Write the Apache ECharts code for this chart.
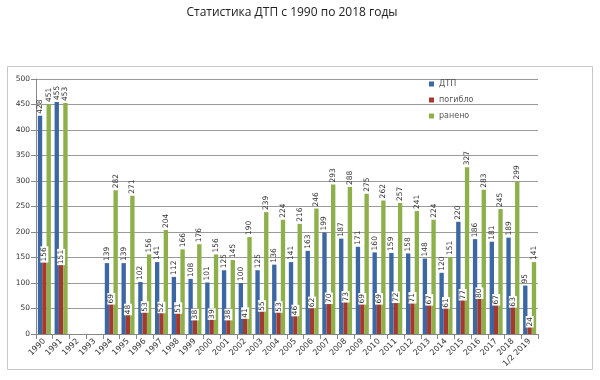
<!DOCTYPE html>
<html><head><meta charset="utf-8">
<script src="https://cdn.jsdelivr.net/npm/echarts@6/dist/echarts.min.js"></script>
<style>html,body{margin:0;padding:0;background:#fff}#c{width:600px;height:380px}</style>
</head><body><div id="c"></div>
<script>
const categories = ['1990','1991','1992','1993','1994','1995','1996','1997','1998','1999','2000','2001','2002','2003','2004','2005','2006','2007','2008','2009','2010','2011','2012','2013','2014','2015','2016','2017','2018','1/2 2019'];
const dtp     = [428,455,null,null,139,139,102,141,112,108,101,125,100,125,136,141,163,199,187,171,160,159,158,148,120,220,186,181,189,95];
const killed  = [156,151,null,null,69,48,53,52,51,38,39,38,41,55,53,46,62,70,73,69,69,72,71,67,61,77,80,67,63,24];
const injured = [451,453,null,null,282,271,156,204,166,176,156,145,190,239,224,216,246,293,288,275,262,257,241,224,151,327,283,245,299,141];
const yTicks = {min:0, max:500, interval:50};

const chart = echarts.init(document.getElementById('c'));
const topLabel = {show:true, position:'top', rotate:90, align:'left', verticalAlign:'middle', distance:2, fontSize:7.5, color:'#333', fontFamily:'DejaVu Sans'};
chart.setOption({
  animation:false,
  title:{text:'Статистика ДТП с 1990 по 2018 годы', left:287, textAlign:'center', top:2, textStyle:{fontSize:12, fontWeight:'normal', color:'#222', fontFamily:'Open Sans'}},
  graphic:[{type:'rect', shape:{x:7.5,y:66.5,width:585,height:303}, style:{fill:'none', stroke:'#c8c8c8', lineWidth:1}, z:-1}],
  legend:{orient:'vertical', left:424, top:75, itemWidth:5, itemHeight:5, itemGap:8, icon:'rect',
    textStyle:{fontSize:8, color:'#555', fontFamily:'DejaVu Sans'}, data:['ДТП','погибло','ранено']},
  grid:{left:36, right:62, top:79, bottom:46},
  xAxis:{type:'category', data:categories,
    axisLine:{lineStyle:{color:'#888'}}, axisTick:{show:true, alignWithLabel:false, lineStyle:{color:'#888'}},
    axisLabel:{rotate:45, fontSize:8, color:'#333', interval:0, margin:6, fontFamily:'DejaVu Sans'}},
  yAxis:{type:'value', min:yTicks.min, max:yTicks.max, interval:yTicks.interval,
    axisLine:{show:true, lineStyle:{color:'#888'}}, axisTick:{show:true, lineStyle:{color:'#888'}},
    splitLine:{lineStyle:{color:'#9a9a9a'}},
    axisLabel:{fontSize:7.5, color:'#333', margin:6, fontFamily:'DejaVu Sans'}},
  series:[
    {name:'ДТП', type:'bar', data:dtp, itemStyle:{color:'#3b68a5'}, barGap:'0%', barCategoryGap:'22%', label:topLabel},
    {name:'погибло', type:'bar', data:killed, itemStyle:{color:'#a5392f'},
      label:{show:true, position:'insideTop', rotate:90, align:'center', verticalAlign:'middle', distance:0, fontSize:7.5, color:'#333', backgroundColor:'#fff', padding:[0,1], fontFamily:'DejaVu Sans'}},
    {name:'ранено', type:'bar', data:injured, itemStyle:{color:'#8db04b'}, label:topLabel}
  ]
});
</script></body></html>
